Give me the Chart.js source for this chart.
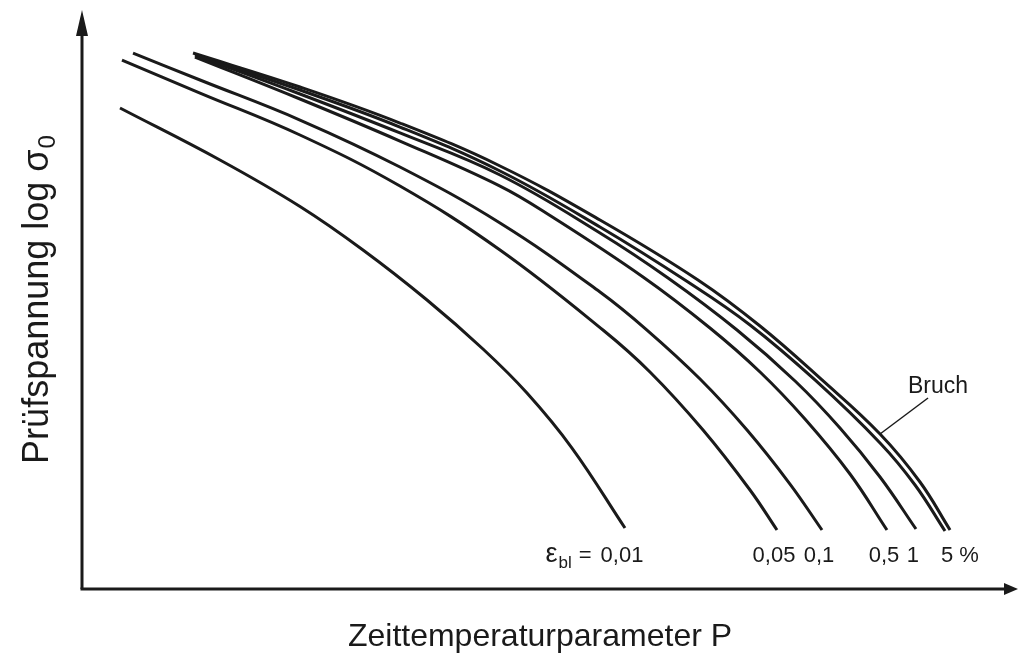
<!DOCTYPE html>
<html lang="de">
<head>
    <meta charset="UTF-8">
    <title>Zeitdehngrenzen</title>
    <script src="https://cdn.jsdelivr.net/npm/chart.js"></script>
    <style>
        body {
            margin: 0;
            padding: 0;
            background: #ffffff;
            overflow: hidden;
        }
        #chartBox {
            width: 1018px;
            height: 655px;
        }
    </style>
</head>
<body>
<div id="chartBox">
    <canvas id="creepChart" width="1018" height="655"></canvas>
</div>

<script>
    const eps001P = [4.06, 14.74, 23.29, 30.02, 36.86, 42.84, 47.54, 52.35, 58.01];
    const eps001S = [83.07, 74.09, 66.06, 58.55, 49.91, 41.45, 33.85, 24.35, 10.54];

    const eps005P = [4.27, 12.61, 23.29, 33.97, 44.66, 55.66, 60.68, 66.35, 71.37, 74.25];
    const eps005S = [91.36, 85.66, 78.41, 69.59, 58.55, 44.73, 37.48, 27.46, 17.10, 10.19];

    const eps01P = [5.45, 12.61, 23.29, 33.97, 44.66, 55.34, 60.36, 66.03, 71.05, 75.64, 79.06];
    const eps01S = [92.57, 87.91, 81.00, 72.88, 63.21, 51.30, 44.73, 36.27, 27.46, 18.13, 10.19];

    const eps05P = [12.07, 23.29, 33.97, 44.66, 50.00, 59.94, 67.09, 72.44, 77.24, 82.05, 86.00];
    const eps05S = [91.88, 84.63, 77.37, 69.59, 64.51, 53.89, 45.08, 37.48, 29.36, 19.86, 10.19];

    const eps1P = [12.29, 23.29, 33.97, 44.66, 55.34, 62.61, 69.98, 76.18, 80.98, 85.26, 89.10];
    const eps1S = [92.06, 85.49, 78.76, 71.50, 61.49, 53.71, 44.73, 35.92, 27.81, 19.34, 10.36];

    const eps5P = [12.07, 23.29, 33.97, 44.66, 55.34, 64.74, 71.37, 78.31, 85.26, 89.00, 92.20];
    const eps5S = [92.23, 86.18, 79.79, 72.19, 62.52, 53.02, 45.60, 36.10, 25.22, 17.96, 10.02];

    const bruchP = [11.86, 23.29, 33.97, 44.66, 55.34, 65.81, 72.44, 79.06, 85.26, 89.53, 92.74];
    const bruchS = [92.57, 86.70, 80.48, 73.06, 63.73, 53.37, 45.42, 36.10, 26.77, 18.48, 10.19];

    const curveNames = ['0,01', '0,05', '0,1', '0,5', '1', '5', 'Bruch'];
    const curveP = [eps001P, eps005P, eps01P, eps05P, eps1P, eps5P, bruchP];
    const curveS = [eps001S, eps005S, eps01S, eps05S, eps1S, eps5S, bruchS];

    const xTitle = 'Zeittemperaturparameter P';
    const yTitle = 'Prüfspannung log σ';
    const yTitleSub = '0';

    const INK = '#1a1a1a';
    const FONT = '"Liberation Sans", Arial, sans-serif';

    const datasets = curveNames.map((name, i) => ({
        label: name,
        data: curveP[i].map((p, k) => ({ x: p, y: curveS[i][k] })),
        borderColor: INK,
        borderWidth: 3,
        pointRadius: 0,
        showLine: true,
        fill: false,
        tension: 0.4
    }));

    // Achsen mit Pfeilen und Beschriftungen
    const decorPlugin = {
        id: 'decor',
        afterDraw(chart) {
            const c = chart.ctx;
            const area = chart.chartArea;
            const xs = chart.scales.x;
            const ys = chart.scales.y;
            c.save();
            c.strokeStyle = INK;
            c.fillStyle = INK;
            c.lineWidth = 3;

            // y-Achse
            c.beginPath();
            c.moveTo(area.left, area.bottom);
            c.lineTo(area.left, area.top + 20);
            c.stroke();
            c.beginPath();
            c.moveTo(area.left, area.top);
            c.lineTo(area.left - 6, area.top + 26);
            c.lineTo(area.left + 6, area.top + 26);
            c.closePath();
            c.fill();

            // x-Achse
            c.beginPath();
            c.moveTo(area.left - 1.5, area.bottom);
            c.lineTo(area.right - 10, area.bottom);
            c.stroke();
            c.beginPath();
            c.moveTo(area.right, area.bottom);
            c.lineTo(area.right - 14, area.bottom - 6);
            c.lineTo(area.right - 14, area.bottom + 6);
            c.closePath();
            c.fill();

            // Kurvenbeschriftungen unter den Kurvenenden
            const labelY = 562;
            c.font = '22px ' + FONT;
            c.textBaseline = 'alphabetic';
            for (let i = 0; i < 6; i++) {
                const p = curveP[i];
                const ex = xs.getPixelForValue(p[p.length - 1]);
                if (i === 5) {
                    c.textAlign = 'left';
                    c.fillText('5 %', ex - 4, labelY);
                } else {
                    c.textAlign = 'center';
                    c.fillText(curveNames[i], ex - 3, labelY);
                }
                if (i === 0) {
                    const left = ex - 3 - c.measureText('0,01').width / 2;
                    c.textAlign = 'right';
                    c.fillText('=', left - 9, labelY);
                    const eqW = c.measureText('=').width;
                    c.font = '17px ' + FONT;
                    const blRight = left - 9 - eqW - 7;
                    c.fillText('bl', blRight, labelY + 6);
                    const blW = c.measureText('bl').width;
                    c.font = '27px ' + FONT;
                    c.fillText('ε', blRight - blW - 1, labelY);
                    c.font = '22px ' + FONT;
                }
            }

            // Bruch mit Hinweislinie
            const bx = xs.getPixelForValue(85.26);
            const by = ys.getPixelForValue(26.77);
            c.lineWidth = 1.5;
            c.beginPath();
            c.moveTo(bx, by);
            c.lineTo(bx + 48, by - 36);
            c.stroke();
            c.textAlign = 'left';
            c.font = '23px ' + FONT;
            c.fillText('Bruch', bx + 28, by - 41);

            // Achsentitel
            c.font = '32px ' + FONT;
            c.textAlign = 'center';
            c.fillText(xTitle, 540, 646);

            c.save();
            c.translate(48, 300);
            c.rotate(-Math.PI / 2);
            c.font = '36px ' + FONT;
            const mainW = c.measureText(yTitle).width;
            c.font = '24px ' + FONT;
            const subW = c.measureText(yTitleSub).width;
            const start = -(mainW + subW) / 2;
            c.textAlign = 'left';
            c.font = '36px ' + FONT;
            c.fillText(yTitle, start, 0);
            c.font = '24px ' + FONT;
            c.fillText(yTitleSub, start + mainW + 1, 7);
            c.restore();

            c.restore();
        }
    };

    new Chart(document.getElementById('creepChart').getContext('2d'), {
        type: 'scatter',
        data: { datasets: datasets },
        options: {
            responsive: false,
            animation: false,
            layout: {
                padding: { left: 82, right: 0, top: 10, bottom: 66 }
            },
            plugins: {
                legend: { display: false },
                tooltip: { enabled: false }
            },
            scales: {
                x: { type: 'linear', min: 0, max: 100, display: false },
                y: { type: 'linear', min: 0, max: 100, display: false }
            }
        },
        plugins: [decorPlugin]
    });
</script>
</body>
</html>
